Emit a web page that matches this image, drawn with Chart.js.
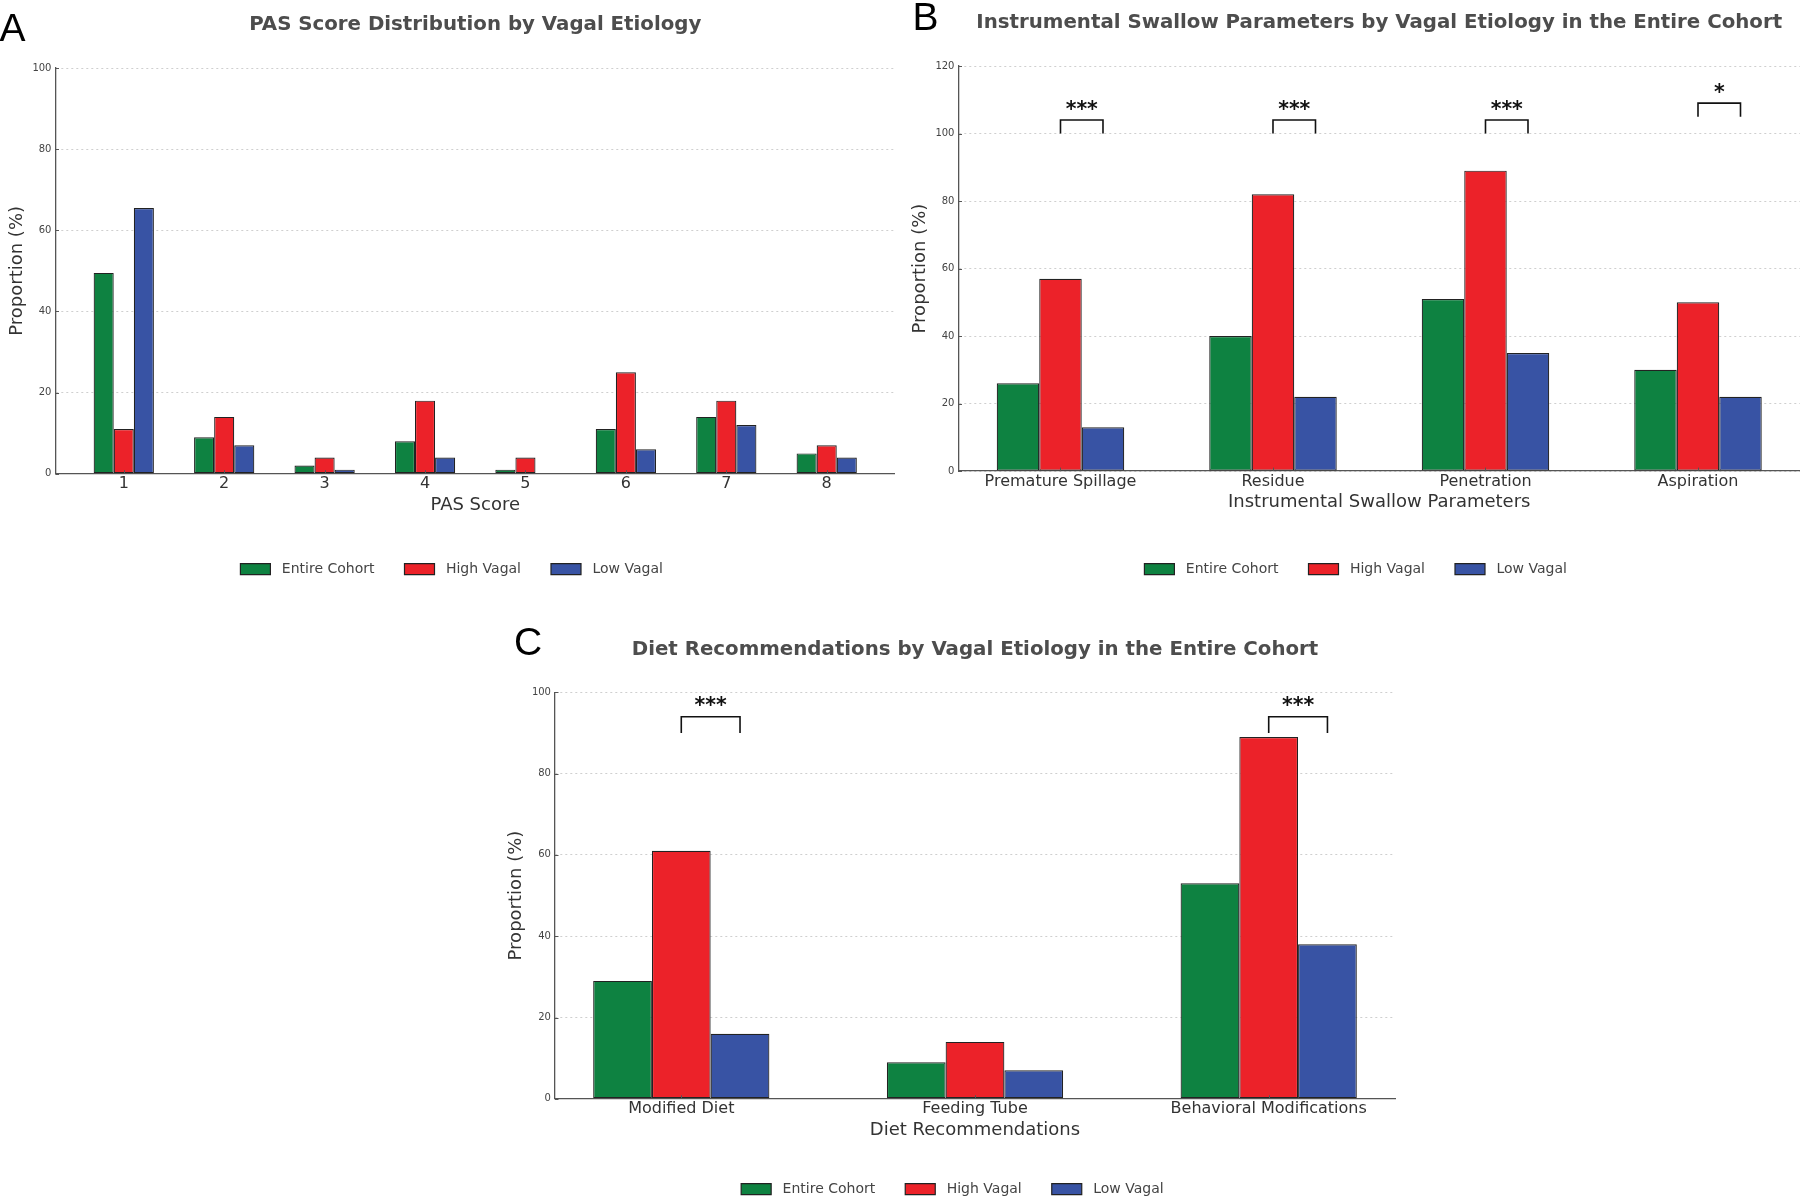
<!DOCTYPE html>
<html>
<head>
<meta charset="utf-8">
<script src="https://cdn.jsdelivr.net/npm/chart.js@4.4.1/dist/chart.umd.min.js"></script>
<style>
  html, body { margin: 0; padding: 0; background: #fff; overflow: hidden; }
  .panel { position: absolute; }
</style>
</head>
<body>
<div class="panel" style="left:0px;top:0px;width:895px;height:600px"><canvas id="chartA"></canvas></div>
<div class="panel" style="left:900px;top:0px;width:900px;height:600px"><canvas id="chartB"></canvas></div>
<div class="panel" style="left:500px;top:600px;width:900px;height:620px"><canvas id="chartC"></canvas></div>
<script>
// series shared by all three panels
const seriesNames = ['Entire Cohort', 'High Vagal', 'Low Vagal'];
const seriesColors = ['#0e8241', '#ec2229', '#3853a4'];

// A - PAS score distribution
const pasScores = ['1', '2', '3', '4', '5', '6', '7', '8'];
const pasEntire = [49.5, 9, 2, 8, 1, 11, 14, 5];
const pasHigh = [11, 14, 4, 18, 4, 25, 18, 7];
const pasLow = [65.5, 7, 1, 4, 0, 6, 12, 4];

// B - instrumental swallow parameters
const swallowParams = ['Premature Spillage', 'Residue', 'Penetration', 'Aspiration'];
const swallowEntire = [26, 40, 51, 30];
const swallowHigh = [57, 82, 89, 50];
const swallowLow = [13, 22, 35, 22];
const swallowSigLow = [100, 100, 100, 105];
const swallowSigHigh = [104, 104, 104, 109];
const swallowSigText = ['***', '***', '***', '*'];

// C - diet recommendations
const dietRecs = ['Modified Diet', 'Feeding Tube', 'Behavioral Modifications'];
const dietEntire = [29, 9, 53];
const dietHigh = [61, 14, 89];
const dietLow = [16, 7, 38];
const dietSigLow = [90, null, 90];
const dietSigHigh = [94, null, 94];
const dietSigText = ['***', '', '***'];

const FONT = "'DejaVu Sans', sans-serif";
Chart.defaults.font.family = FONT;

// titles, panel letters, inward ticks and significance brackets
const decor = {
  id: 'decor',
  afterLayout(chart, args, o) {
    if (chart.legend && o.legendShift) {
      chart.legend.left += o.legendShift;
      chart.legend.right += o.legendShift;
    }
  },
  afterDraw(chart, args, o) {
    const ctx = chart.ctx;
    const area = chart.chartArea;
    const xs = chart.scales.x, ys = chart.scales.y;
    ctx.save();

    // small inward tick marks
    ctx.strokeStyle = '#555';
    ctx.lineWidth = 1;
    ctx.beginPath();
    xs.ticks.forEach((t, i) => {
      const px = Math.round(xs.getPixelForTick(i)) + 0.5;
      ctx.moveTo(px, area.bottom);
      ctx.lineTo(px, area.bottom - 3.5);
    });
    ys.ticks.forEach((t, i) => {
      const py = Math.round(ys.getPixelForTick(i)) + 0.5;
      ctx.moveTo(area.left, py);
      ctx.lineTo(area.left + 3.5, py);
    });
    ctx.stroke();

    // title centred over the axes
    ctx.fillStyle = '#4d4d4d';
    ctx.font = "bold 19.8px " + FONT;
    ctx.textAlign = 'center';
    ctx.textBaseline = 'middle';
    ctx.fillText(o.title, (area.left + area.right) / 2, o.titleY);

    // panel letter
    ctx.fillStyle = '#000';
    ctx.font = "39px 'Liberation Sans', Arial, sans-serif";
    ctx.textAlign = 'left';
    ctx.textBaseline = 'alphabetic';
    ctx.fillText(o.letter, o.letterX, o.letterY);

    // brackets between high and low vagal bars
    if (o.sigLow) {
      const mHigh = chart.getDatasetMeta(1), mLow = chart.getDatasetMeta(2);
      ctx.strokeStyle = '#111';
      ctx.lineWidth = 1.6;
      ctx.fillStyle = '#111';
      ctx.font = "bold 20.5px " + FONT;
      ctx.textAlign = 'center';
      o.sigLow.forEach((lo, i) => {
        if (lo === null) return;
        const x1 = mHigh.data[i].x, x2 = mLow.data[i].x;
        const yLo = ys.getPixelForValue(lo), yHi = ys.getPixelForValue(o.sigHigh[i]);
        ctx.beginPath();
        ctx.moveTo(x1, yLo);
        ctx.lineTo(x1, yHi);
        ctx.lineTo(x2, yHi);
        ctx.lineTo(x2, yLo);
        ctx.stroke();
        ctx.fillText(o.sigText[i], (x1 + x2) / 2, yHi - 4.5);
      });
    }
    ctx.restore();
  }
};

function makeChart(id, labels, series, cfg) {
  const datasets = series.map((vals, k) => ({
    label: seriesNames[k],
    data: vals.map((v, i) => ({ x: i, y: v })),
    backgroundColor: seriesColors[k],
    borderColor: '#222',
    borderWidth: 1.2,
    borderSkipped: false,
    categoryPercentage: 0.6,
    barPercentage: 1.0
  }));

  return new Chart(document.getElementById(id), {
    type: 'bar',
    data: { datasets: datasets },
    options: {
      responsive: true,
      maintainAspectRatio: false,
      animation: false,
      layout: { padding: cfg.padding },
      scales: {
        x: {
          type: 'linear',
          min: cfg.xMin,
          max: cfg.xMax,
          offset: false,
          afterBuildTicks: s => { s.ticks = labels.map((l, i) => ({ value: i })); },
          ticks: {
            callback: v => labels[v],
            font: { size: 16, lineHeight: 1 },
            color: '#333',
            padding: 2.3,
            autoSkip: false,
            maxRotation: 0
          },
          grid: { display: false, drawTicks: false, offset: false },
          border: { color: '#555', width: 1.3 },
          title: {
            display: true,
            text: cfg.xTitle,
            font: { size: 18 },
            color: '#333',
            padding: { top: 0, bottom: cfg.xTitlePad }
          }
        },
        y: {
          min: 0,
          max: cfg.yMax,
          ticks: { stepSize: 20, font: { size: 10 }, color: '#444', padding: 4 },
          grid: { color: '#cfcfcf', lineWidth: 1, drawTicks: false },
          border: { color: '#555', width: 1.3, dash: [2, 3] },
          title: {
            display: true,
            text: 'Proportion (%)',
            font: { size: 18 },
            color: '#333',
            padding: { top: 4, bottom: 0.5 }
          }
        }
      },
      plugins: {
        legend: {
          position: 'bottom',
          labels: {
            boxWidth: 30,
            boxHeight: 11,
            padding: 30,
            color: '#444',
            font: { size: 14 },
            generateLabels: chart => Chart.defaults.plugins.legend.labels.generateLabels(chart)
              .map(item => Object.assign(item, { text: ' ' + item.text }))
          }
        },
        tooltip: { enabled: false },
        decor: cfg.decor
      }
    },
    plugins: [decor]
  });
}

makeChart('chartA', pasScores, [pasEntire, pasHigh, pasLow], {
  xMin: -0.68, xMax: 7.68, yMax: 100,
  xTitle: 'PAS Score', xTitlePad: 16.2,
  padding: { left: 2.3, right: 0, top: 68, bottom: 13.9 },
  decor: { title: 'PAS Score Distribution by Vagal Etiology', titleY: 25,
           letter: 'A', letterX: -0.5, letterY: 41, legendShift: 3 }
});

makeChart('chartB', swallowParams, [swallowEntire, swallowHigh, swallowLow], {
  xMin: -0.48, xMax: 3.48, yMax: 120,
  xTitle: 'Instrumental Swallow Parameters', xTitlePad: 18.8,
  padding: { left: 5.3, right: 0, top: 66, bottom: 13.9 },
  decor: { title: 'Instrumental Swallow Parameters by Vagal Etiology in the Entire Cohort', titleY: 22.5,
           letter: 'B', letterX: 12.5, letterY: 29.5, legendShift: 3,
           sigLow: swallowSigLow, sigHigh: swallowSigHigh, sigText: swallowSigText }
});

makeChart('chartC', dietRecs, [dietEntire, dietHigh, dietLow], {
  xMin: -0.43, xMax: 2.43, yMax: 100,
  xTitle: 'Diet Recommendations', xTitlePad: 11.1,
  padding: { left: 1.8, right: 5, top: 92.3, bottom: 13.9 },
  decor: { title: 'Diet Recommendations by Vagal Etiology in the Entire Cohort', titleY: 49.5,
           letter: 'C', letterX: 14, letterY: 55, legendShift: 4,
           sigLow: dietSigLow, sigHigh: dietSigHigh, sigText: dietSigText }
});
</script>
</body>
</html>
